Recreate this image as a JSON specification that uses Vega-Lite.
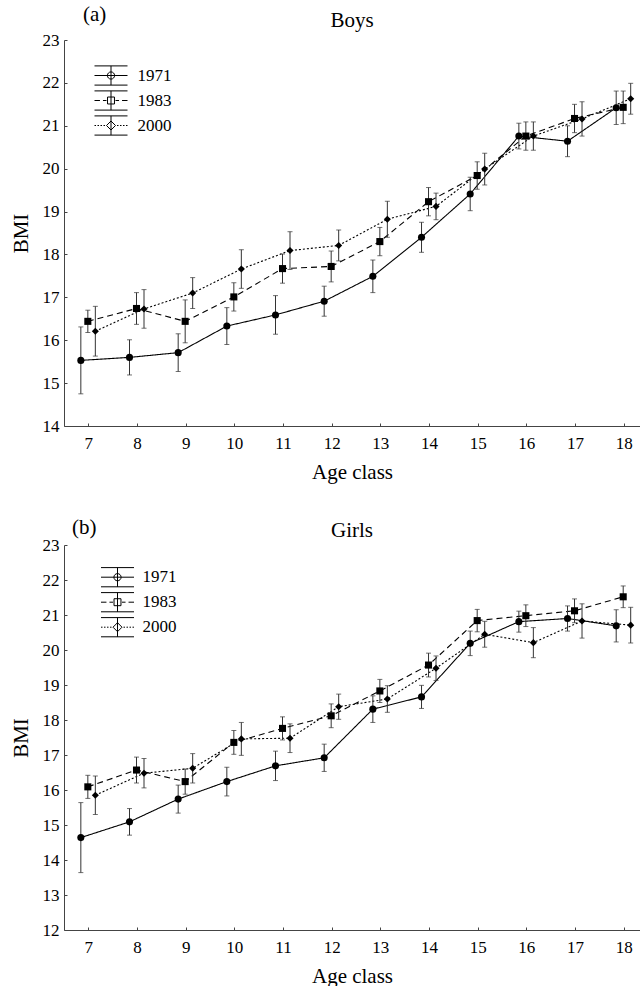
{
  "$schema": "https://vega.github.io/schema/vega-lite/v6.json",
  "padding": {"left": 10, "top": 4, "right": 0, "bottom": 0},
  "background": "white",
  "spacing": 35,
  "datasets": {
    "boys": [
      {"age": 7, "year": "1971", "bmi": 15.53, "lo": 14.75, "hi": 16.31},
      {"age": 8, "year": "1971", "bmi": 15.60, "lo": 15.19, "hi": 16.01},
      {"age": 9, "year": "1971", "bmi": 15.71, "lo": 15.27, "hi": 16.15},
      {"age": 10, "year": "1971", "bmi": 16.33, "lo": 15.90, "hi": 16.76},
      {"age": 11, "year": "1971", "bmi": 16.59, "lo": 16.14, "hi": 17.04},
      {"age": 12, "year": "1971", "bmi": 16.91, "lo": 16.56, "hi": 17.26},
      {"age": 13, "year": "1971", "bmi": 17.49, "lo": 17.11, "hi": 17.87},
      {"age": 14, "year": "1971", "bmi": 18.40, "lo": 18.05, "hi": 18.75},
      {"age": 15, "year": "1971", "bmi": 19.41, "lo": 19.02, "hi": 19.80},
      {"age": 16, "year": "1971", "bmi": 20.76, "lo": 20.46, "hi": 21.06},
      {"age": 17, "year": "1971", "bmi": 20.64, "lo": 20.28, "hi": 21.00},
      {"age": 18, "year": "1971", "bmi": 21.42, "lo": 21.03, "hi": 21.81},
      {"age": 7, "year": "1983", "bmi": 16.44, "lo": 16.18, "hi": 16.70},
      {"age": 8, "year": "1983", "bmi": 16.74, "lo": 16.37, "hi": 17.11},
      {"age": 9, "year": "1983", "bmi": 16.44, "lo": 15.94, "hi": 16.94},
      {"age": 10, "year": "1983", "bmi": 17.01, "lo": 16.68, "hi": 17.34},
      {"age": 11, "year": "1983", "bmi": 17.67, "lo": 17.33, "hi": 18.01},
      {"age": 12, "year": "1983", "bmi": 17.72, "lo": 17.36, "hi": 18.08},
      {"age": 13, "year": "1983", "bmi": 18.30, "lo": 17.97, "hi": 18.63},
      {"age": 14, "year": "1983", "bmi": 19.23, "lo": 18.90, "hi": 19.56},
      {"age": 15, "year": "1983", "bmi": 19.84, "lo": 19.52, "hi": 20.16},
      {"age": 16, "year": "1983", "bmi": 20.76, "lo": 20.43, "hi": 21.09},
      {"age": 17, "year": "1983", "bmi": 21.17, "lo": 20.84, "hi": 21.50},
      {"age": 18, "year": "1983", "bmi": 21.43, "lo": 21.05, "hi": 21.81},
      {"age": 7, "year": "2000", "bmi": 16.21, "lo": 15.63, "hi": 16.79},
      {"age": 8, "year": "2000", "bmi": 16.73, "lo": 16.28, "hi": 17.18},
      {"age": 9, "year": "2000", "bmi": 17.10, "lo": 16.74, "hi": 17.46},
      {"age": 10, "year": "2000", "bmi": 17.66, "lo": 17.21, "hi": 18.11},
      {"age": 11, "year": "2000", "bmi": 18.09, "lo": 17.65, "hi": 18.53},
      {"age": 12, "year": "2000", "bmi": 18.21, "lo": 17.85, "hi": 18.57},
      {"age": 13, "year": "2000", "bmi": 18.82, "lo": 18.40, "hi": 19.24},
      {"age": 14, "year": "2000", "bmi": 19.12, "lo": 18.81, "hi": 19.43},
      {"age": 15, "year": "2000", "bmi": 19.99, "lo": 19.62, "hi": 20.36},
      {"age": 16, "year": "2000", "bmi": 20.76, "lo": 20.43, "hi": 21.09},
      {"age": 17, "year": "2000", "bmi": 21.16, "lo": 20.76, "hi": 21.56},
      {"age": 18, "year": "2000", "bmi": 21.63, "lo": 21.27, "hi": 21.99}
    ],
    "girls": [
      {"age": 7, "year": "1971", "bmi": 14.64, "lo": 13.64, "hi": 15.64},
      {"age": 8, "year": "1971", "bmi": 15.09, "lo": 14.71, "hi": 15.47},
      {"age": 9, "year": "1971", "bmi": 15.74, "lo": 15.34, "hi": 16.14},
      {"age": 10, "year": "1971", "bmi": 16.24, "lo": 15.83, "hi": 16.65},
      {"age": 11, "year": "1971", "bmi": 16.69, "lo": 16.27, "hi": 17.11},
      {"age": 12, "year": "1971", "bmi": 16.92, "lo": 16.53, "hi": 17.31},
      {"age": 13, "year": "1971", "bmi": 18.31, "lo": 17.93, "hi": 18.69},
      {"age": 14, "year": "1971", "bmi": 18.66, "lo": 18.33, "hi": 18.99},
      {"age": 15, "year": "1971", "bmi": 20.19, "lo": 19.84, "hi": 20.54},
      {"age": 16, "year": "1971", "bmi": 20.81, "lo": 20.51, "hi": 21.11},
      {"age": 17, "year": "1971", "bmi": 20.90, "lo": 20.54, "hi": 21.26},
      {"age": 18, "year": "1971", "bmi": 20.69, "lo": 20.23, "hi": 21.15},
      {"age": 7, "year": "1983", "bmi": 16.09, "lo": 15.76, "hi": 16.42},
      {"age": 8, "year": "1983", "bmi": 16.57, "lo": 16.20, "hi": 16.94},
      {"age": 9, "year": "1983", "bmi": 16.24, "lo": 15.88, "hi": 16.60},
      {"age": 10, "year": "1983", "bmi": 17.36, "lo": 17.02, "hi": 17.70},
      {"age": 11, "year": "1983", "bmi": 17.76, "lo": 17.43, "hi": 18.09},
      {"age": 12, "year": "1983", "bmi": 18.12, "lo": 17.78, "hi": 18.46},
      {"age": 13, "year": "1983", "bmi": 18.83, "lo": 18.50, "hi": 19.16},
      {"age": 14, "year": "1983", "bmi": 19.57, "lo": 19.23, "hi": 19.91},
      {"age": 15, "year": "1983", "bmi": 20.84, "lo": 20.52, "hi": 21.16},
      {"age": 16, "year": "1983", "bmi": 20.98, "lo": 20.67, "hi": 21.29},
      {"age": 17, "year": "1983", "bmi": 21.12, "lo": 20.78, "hi": 21.46},
      {"age": 18, "year": "1983", "bmi": 21.52, "lo": 21.21, "hi": 21.83},
      {"age": 7, "year": "2000", "bmi": 15.85, "lo": 15.30, "hi": 16.40},
      {"age": 8, "year": "2000", "bmi": 16.48, "lo": 16.06, "hi": 16.90},
      {"age": 9, "year": "2000", "bmi": 16.62, "lo": 16.20, "hi": 17.04},
      {"age": 10, "year": "2000", "bmi": 17.46, "lo": 16.99, "hi": 17.93},
      {"age": 11, "year": "2000", "bmi": 17.48, "lo": 17.07, "hi": 17.89},
      {"age": 12, "year": "2000", "bmi": 18.38, "lo": 18.02, "hi": 18.74},
      {"age": 13, "year": "2000", "bmi": 18.60, "lo": 18.22, "hi": 18.98},
      {"age": 14, "year": "2000", "bmi": 19.48, "lo": 19.13, "hi": 19.83},
      {"age": 15, "year": "2000", "bmi": 20.45, "lo": 20.08, "hi": 20.82},
      {"age": 16, "year": "2000", "bmi": 20.21, "lo": 19.78, "hi": 20.64},
      {"age": 17, "year": "2000", "bmi": 20.83, "lo": 20.34, "hi": 21.32},
      {"age": 18, "year": "2000", "bmi": 20.71, "lo": 20.20, "hi": 21.22}
    ]
  },
  "vconcat": [
    {
      "title": {"text": "(a)", "anchor": "start", "offset": -15, "dx": 73},
      "vconcat": [
        {
          "title": {"text": "Boys", "offset": 0},
          "width": 576,
          "height": 386,
          "data": {"name": "boys"},
          "encoding": {
            "x": {"field": "age", "type": "quantitative", "scale": {"domain": [6.5, 18.335], "nice": false, "zero": false},
                  "axis": {"values": [7,8,9,10,11,12,13,14,15,16,17,18], "title": "Age class", "labelPadding": 12, "titlePadding": 10, "labelOverlap": false}}
          },
          "layer": [
            {
              "mark": {"type": "line", "color": "black", "strokeWidth": 1.1, "xOffset": {"expr": "datum.year == '1971' ? -7.5 : datum.year == '2000' ? 7 : -0.5"}},
              "encoding": {
                "y": {"field": "bmi", "type": "quantitative", "scale": {"domain": [14, 23], "nice": false, "zero": false},
                      "axis": {"values": [14,15,16,17,18,19,20,21,22,23], "title": "BMI", "labelPadding": 8, "titlePadding": 11, "labelOverlap": false}},
                "strokeDash": {"field": "year", "type": "nominal", "scale": {"domain": ["1971", "1983", "2000"], "range": [[1, 0], [6, 4], [2, 2]]}, "legend": null}
              }
            },
            {
              "mark": {"type": "rule", "color": "#333", "strokeWidth": 1, "xOffset": {"expr": "datum.year == '1971' ? -7.5 : datum.year == '2000' ? 7 : -0.5"}},
              "encoding": {"y": {"field": "lo", "type": "quantitative"}, "y2": {"field": "hi"}}
            },
            {
              "mark": {"type": "tick", "orient": "horizontal", "color": "#333", "size": 5, "thickness": 1, "xOffset": {"expr": "datum.year == '1971' ? -7.5 : datum.year == '2000' ? 7 : -0.5"}},
              "encoding": {"y": {"field": "lo", "type": "quantitative"}}
            },
            {
              "mark": {"type": "tick", "orient": "horizontal", "color": "#333", "size": 5, "thickness": 1, "xOffset": {"expr": "datum.year == '1971' ? -7.5 : datum.year == '2000' ? 7 : -0.5"}},
              "encoding": {"y": {"field": "hi", "type": "quantitative"}}
            },
            {
              "mark": {"type": "point", "filled": true, "color": "black", "size": 50, "opacity": 1, "xOffset": {"expr": "datum.year == '1971' ? -7.5 : datum.year == '2000' ? 7 : -0.5"}},
              "encoding": {
                "y": {"field": "bmi", "type": "quantitative"},
                "shape": {"field": "year", "type": "nominal", "scale": {"domain": ["1971", "1983", "2000"], "range": ["circle", "square", "diamond"]}, "legend": null}
              }
            },
            {
              "mark": {"type": "point", "filled": false, "color": "black", "size": 0, "strokeWidth": 1},
              "encoding": {
                "y": {"field": "bmi", "type": "quantitative"},
                "shape": {"field": "year", "type": "nominal",
                  "scale": {"domain": ["1971", "1983", "2000"], "range": [
                    "M-1.375,-0.8H1.375M-1.375,0.8H1.375M0,-0.8V0.8M-1.375,0H1.375M-0.3,0A0.3,0.3,0,1,0,0.3,0A0.3,0.3,0,1,0,-0.3,0Z",
                    "M-1.375,-0.8H1.375M-1.375,0.8H1.375M0,-0.8V0.8M-1.375,0H-0.92M-0.67,0H-0.375M0.375,0H0.67M0.92,0H1.375M-0.29,-0.29H0.29V0.29H-0.29Z",
                    "M-1.375,-0.8H1.375M-1.375,0.8H1.375M0,-0.8V0.8M-1.375,0H-1.25M-1.125,0H-1M-0.875,0H-0.75M-0.625,0H-0.5M0.5,0H0.625M0.75,0H0.875M1,0H1.125M1.25,0H1.375M0,-0.375L0.375,0L0,0.375L-0.375,0Z"]},
                  "legend": {"title": null, "orient": "none", "legendX": 34.5, "legendY": 23, "padding": 0, "symbolSize": 576, "rowPadding": -4, "labelOffset": 14, "labelFontSize": 17, "labelFont": "Liberation Serif", "labelColor": "black", "symbolStrokeWidth": 1, "symbolStrokeColor": "black", "symbolFillColor": "black", "symbolOpacity": 1,
                    "encode": {"symbols": {"fill": {"value": "black"}, "stroke": {"value": "black"}}}}
                }
              }
            }
          ],
          "resolve": {"scale": {"shape": "independent"}, "legend": {"shape": "independent", "strokeDash": "independent"}}
        }
      ]
    },
    {
      "title": {"text": "(b)", "anchor": "start", "offset": -18, "dx": 62},
      "vconcat": [
        {
          "title": {"text": "Girls", "offset": -5},
          "width": 576,
          "height": 385,
          "data": {"name": "girls"},
          "encoding": {
            "x": {"field": "age", "type": "quantitative", "scale": {"domain": [6.5, 18.335], "nice": false, "zero": false},
                  "axis": {"values": [7,8,9,10,11,12,13,14,15,16,17,18], "title": "Age class", "labelPadding": 12, "titlePadding": 10, "labelOverlap": false}}
          },
          "layer": [
            {
              "mark": {"type": "line", "color": "black", "strokeWidth": 1.1, "xOffset": {"expr": "datum.year == '1971' ? -7.5 : datum.year == '2000' ? 7 : -0.5"}},
              "encoding": {
                "y": {"field": "bmi", "type": "quantitative", "scale": {"domain": [12, 23], "nice": false, "zero": false},
                      "axis": {"values": [12,13,14,15,16,17,18,19,20,21,22,23], "tickCount": 12, "title": "BMI", "labelPadding": 8, "titlePadding": 11, "labelOverlap": false}},
                "strokeDash": {"field": "year", "type": "nominal", "scale": {"domain": ["1971", "1983", "2000"], "range": [[1, 0], [6, 4], [2, 2]]}, "legend": null}
              }
            },
            {
              "mark": {"type": "rule", "color": "#333", "strokeWidth": 1, "xOffset": {"expr": "datum.year == '1971' ? -7.5 : datum.year == '2000' ? 7 : -0.5"}},
              "encoding": {"y": {"field": "lo", "type": "quantitative"}, "y2": {"field": "hi"}}
            },
            {
              "mark": {"type": "tick", "orient": "horizontal", "color": "#333", "size": 5, "thickness": 1, "xOffset": {"expr": "datum.year == '1971' ? -7.5 : datum.year == '2000' ? 7 : -0.5"}},
              "encoding": {"y": {"field": "lo", "type": "quantitative"}}
            },
            {
              "mark": {"type": "tick", "orient": "horizontal", "color": "#333", "size": 5, "thickness": 1, "xOffset": {"expr": "datum.year == '1971' ? -7.5 : datum.year == '2000' ? 7 : -0.5"}},
              "encoding": {"y": {"field": "hi", "type": "quantitative"}}
            },
            {
              "mark": {"type": "point", "filled": true, "color": "black", "size": 50, "opacity": 1, "xOffset": {"expr": "datum.year == '1971' ? -7.5 : datum.year == '2000' ? 7 : -0.5"}},
              "encoding": {
                "y": {"field": "bmi", "type": "quantitative"},
                "shape": {"field": "year", "type": "nominal", "scale": {"domain": ["1971", "1983", "2000"], "range": ["circle", "square", "diamond"]}, "legend": null}
              }
            },
            {
              "mark": {"type": "point", "filled": false, "color": "black", "size": 0, "strokeWidth": 1},
              "encoding": {
                "y": {"field": "bmi", "type": "quantitative"},
                "shape": {"field": "year", "type": "nominal",
                  "scale": {"domain": ["1971", "1983", "2000"], "range": [
                    "M-1.375,-0.8H1.375M-1.375,0.8H1.375M0,-0.8V0.8M-1.375,0H1.375M-0.3,0A0.3,0.3,0,1,0,0.3,0A0.3,0.3,0,1,0,-0.3,0Z",
                    "M-1.375,-0.8H1.375M-1.375,0.8H1.375M0,-0.8V0.8M-1.375,0H-0.92M-0.67,0H-0.375M0.375,0H0.67M0.92,0H1.375M-0.29,-0.29H0.29V0.29H-0.29Z",
                    "M-1.375,-0.8H1.375M-1.375,0.8H1.375M0,-0.8V0.8M-1.375,0H-1.25M-1.125,0H-1M-0.875,0H-0.75M-0.625,0H-0.5M0.5,0H0.625M0.75,0H0.875M1,0H1.125M1.25,0H1.375M0,-0.375L0.375,0L0,0.375L-0.375,0Z"]},
                  "legend": {"title": null, "orient": "none", "legendX": 41, "legendY": 19.7, "padding": 0, "symbolSize": 576, "rowPadding": -4, "labelOffset": 12.5, "labelFontSize": 17, "labelFont": "Liberation Serif", "labelColor": "black", "symbolStrokeWidth": 1, "symbolStrokeColor": "black", "symbolFillColor": "black", "symbolOpacity": 1,
                    "encode": {"symbols": {"fill": {"value": "black"}, "stroke": {"value": "black"}}}}
                }
              }
            }
          ],
          "resolve": {"scale": {"shape": "independent"}, "legend": {"shape": "independent", "strokeDash": "independent"}}
        }
      ]
    }
  ],
  "resolve": {"scale": {"x": "independent", "y": "independent", "shape": "independent", "strokeDash": "independent"}, "legend": {"shape": "independent", "strokeDash": "independent"}},
  "config": {
    "font": "Liberation Serif",
    "view": {"stroke": null},
    "axis": {"grid": false, "domainColor": "#444", "tickColor": "#444", "labelColor": "black", "titleColor": "black", "labelFontSize": 17, "titleFontSize": 21, "titleFontWeight": "normal", "labelFont": "Liberation Serif", "titleFont": "Liberation Serif", "tickSize": -3, "labelOverlap": false, "labelFlush": false},
    "title": {"fontSize": 21, "fontWeight": "normal", "font": "Liberation Serif", "color": "black"}
  }
}
